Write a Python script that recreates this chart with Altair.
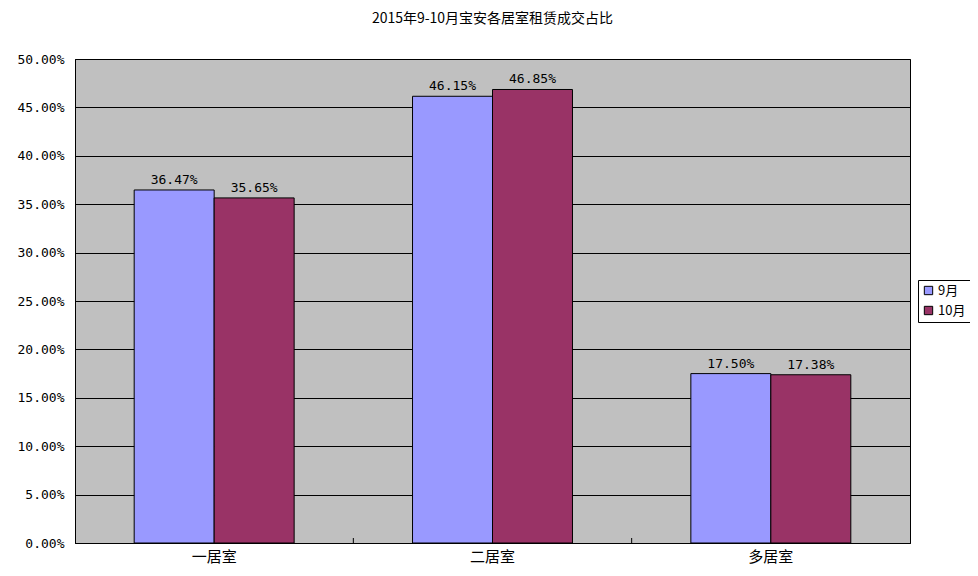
import altair as alt
import pandas as pd

categories = ["一居室", "二居室", "多居室"]
series = ["9月", "10月"]
sep = [0.3647, 0.4615, 0.1750]
octo = [0.3565, 0.4685, 0.1738]
labels_sep = ["36.47%", "46.15%", "17.50%"]
labels_oct = ["35.65%", "46.85%", "17.38%"]
yticks = [0.0, 0.05, 0.10, 0.15, 0.20, 0.25, 0.30, 0.35, 0.40, 0.45, 0.50]

rows = []
for i, c in enumerate(categories):
    rows.append({"cat": c, "month": series[0], "v": sep[i], "lab": labels_sep[i]})
    rows.append({"cat": c, "month": series[1], "v": octo[i], "lab": labels_oct[i]})
df = pd.DataFrame(rows)
bounds = pd.DataFrame({"cat": categories[1:]})

CJK = "Noto Sans CJK SC"
MONO = "DejaVu Sans Mono, Noto Sans CJK SC"
H = 484

xscale = alt.Scale(domain=categories, paddingInner=0, paddingOuter=0)
xaxis = alt.Axis(labelAngle=0, labelFontSize=15, labelColor="black", labelFont=CJK,
                 domainColor="black", ticks=False, labelPadding=6, grid=False)
x = alt.X("cat:N", sort=categories, title=None, scale=xscale, axis=xaxis)
xo = alt.XOffset("month:N", sort=series, scale=alt.Scale(paddingInner=0.0, paddingOuter=0.74))
y = alt.Y("v:Q", title=None,
          scale=alt.Scale(domain=[0, 0.5]),
          axis=alt.Axis(format=".2%", values=yticks, labelFontSize=13,
                        labelFont=MONO, labelColor="black", grid=True, gridColor="black",
                        gridOpacity=1, domainColor="black", ticks=False,
                        labelPadding=11))
color = alt.Color("month:N", sort=series,
                  scale=alt.Scale(domain=series, range=["#9999FF", "#993366"]),
                  legend=alt.Legend(title=None, orient="none", legendX=843, legendY=221,
                                    strokeColor="black", fillColor="white", padding=4,
                                    symbolType="square", symbolSize=70, symbolStrokeColor="black",
                                    symbolStrokeWidth=1, labelFontSize=13, labelFont=CJK,
                                    labelColor="black", rowPadding=6, labelOffset=3))

bars = alt.Chart(df).mark_bar(stroke="black", strokeWidth=1, opacity=1).encode(
    x=x, xOffset=xo, y=y, color=color)
text = alt.Chart(df).mark_text(dy=-10, fontSize=13, font=MONO, color="black").encode(
    x=x, xOffset=xo, y=y, text="lab:N")
ticks = alt.Chart(bounds).mark_rule(color="black", strokeWidth=1).encode(
    x=alt.X("cat:N", sort=categories, bandPosition=0, scale=xscale, title=None, axis=xaxis),
    y=alt.value(H), y2=alt.value(H - 5))

chart = (bars + text + ticks).properties(
    width=835, height=H,
    title=alt.TitleParams("2015年9-10月宝安各居室租赁成交占比", fontSize=14, font=CJK,
                          fontWeight="normal", color="black", anchor="middle", offset=27),
    autosize=alt.AutoSizeParams(type="none"),
    padding={"left": 67, "top": 51, "right": 60, "bottom": 25},
    background="white",
).configure_view(fill="#C0C0C0", stroke="black", strokeWidth=1)

chart.save("out.html", embed_options={"renderer": "svg", "actions": False})
